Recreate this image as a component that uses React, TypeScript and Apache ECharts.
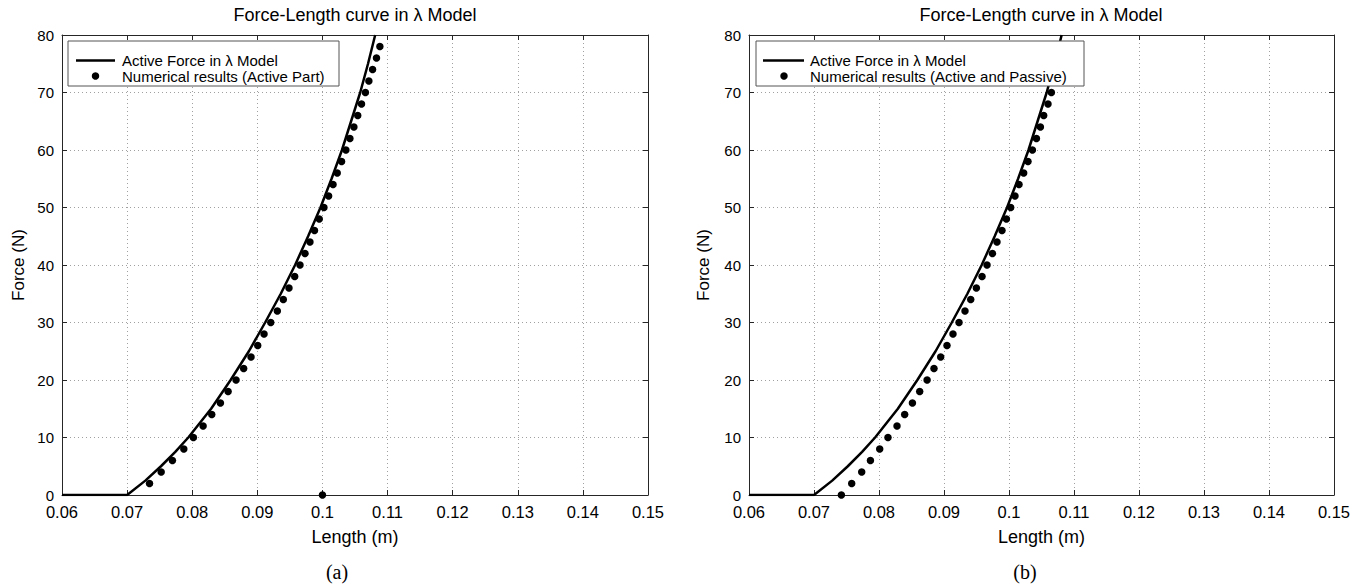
import React, { useEffect, useRef } from "react";
import * as echarts from "echarts";

// ---------- data ----------
const xTickMin = 0.06;
const xTickMax = 0.15;
const xTickStep = 0.01;
const yTickMin = 0;
const yTickMax = 80;
const yTickStep = 10;

const panelTitles = ["Force-Length curve in \u03bb Model", "Force-Length curve in \u03bb Model"];
const panelCaptions = ["(a)", "(b)"];
const xAxisName = "Length (m)";
const yAxisName = "Force (N)";
const curveLegend = "Active Force in \u03bb Model";
const dotsLegendA = "Numerical results (Active Part)";
const dotsLegendB = "Numerical results (Active and Passive)";

// Active force in lambda model (same curve in both panels)
const modelLength = [0.06, 0.07, 0.0728, 0.0752, 0.0774, 0.0794, 0.0829, 0.0859, 0.0887, 0.0912, 0.0936, 0.0958, 0.0978, 0.0997, 0.1014, 0.103, 0.1044, 0.1058, 0.107, 0.1081];
const modelForce = [0, 0, 2.5, 5, 7.5, 10, 15, 20, 25, 30, 35, 40, 45, 50, 55, 60, 65, 70, 75, 80];

// Panel (a): numerical results, active part
const activeLength = [0.07344, 0.07523, 0.07696, 0.07871, 0.08018, 0.08167, 0.083, 0.08433, 0.08551, 0.08673, 0.0879, 0.08903, 0.09006, 0.09103, 0.09206, 0.09307, 0.09399, 0.09486, 0.09574, 0.09655, 0.09732, 0.09808, 0.09878, 0.09951, 0.10023, 0.10095, 0.10163, 0.10227, 0.10294, 0.1036, 0.10422, 0.10483, 0.10542, 0.106, 0.1066, 0.10713, 0.1077, 0.1083, 0.10882, 0.1];
const activeForce = [2, 4, 6, 8, 10, 12, 14, 16, 18, 20, 22, 24, 26, 28, 30, 32, 34, 36, 38, 40, 42, 44, 46, 48, 50, 52, 54, 56, 58, 60, 62, 64, 66, 68, 70, 72, 74, 76, 78, 0];

// Panel (b): numerical results, active and passive
const bothLength = [0.07421, 0.0758, 0.07734, 0.07868, 0.08011, 0.08138, 0.08277, 0.08395, 0.08514, 0.08626, 0.0874, 0.08846, 0.08949, 0.09046, 0.09138, 0.09231, 0.09323, 0.09411, 0.09498, 0.09585, 0.09662, 0.09745, 0.09815, 0.09892, 0.0996, 0.10026, 0.10092, 0.10154, 0.10226, 0.10292, 0.1036, 0.10422, 0.10483, 0.10534, 0.106, 0.10652];
const bothForce = [0, 2, 4, 6, 8, 10, 12, 14, 16, 18, 20, 22, 24, 26, 28, 30, 32, 34, 36, 38, 40, 42, 44, 46, 48, 50, 52, 54, 56, 58, 60, 62, 64, 66, 68, 70];

// ---------- styling ----------
const FONT = "'Liberation Sans', Arial, Helvetica, sans-serif";
const SERIF = "'Liberation Serif', 'Times New Roman', serif";
const AXIS = "#262626";
const GRIDC = "#a0a0a0";

const zip = (a: number[], b: number[]) => a.map((v, i) => [v, b[i]]);
const fmtX = (v: number) => String(Number(v.toFixed(2)));

function mainX(gridIndex: number) {
  return {
    type: "value", gridIndex, position: "bottom",
    min: xTickMin, max: xTickMax, interval: xTickStep,
    name: xAxisName, nameLocation: "middle", nameGap: 33,
    nameTextStyle: { fontSize: 18, color: "#000", fontFamily: FONT },
    axisLine: { show: true, onZero: false, lineStyle: { color: AXIS, width: 1 } },
    axisTick: { show: true, inside: true, length: 5, lineStyle: { color: AXIS } },
    axisLabel: { show: true, margin: 8, fontSize: 16.5, color: "#000", fontFamily: FONT, formatter: fmtX, showMinLabel: true, showMaxLabel: true },
    splitLine: { show: true, lineStyle: { color: GRIDC, type: [1, 3], width: 1 } },
  };
}
function topX(gridIndex: number) {
  return {
    type: "value", gridIndex, position: "top",
    min: xTickMin, max: xTickMax, interval: xTickStep,
    axisLine: { show: true, onZero: false, lineStyle: { color: AXIS, width: 1 } },
    axisTick: { show: true, inside: true, length: 5, lineStyle: { color: AXIS } },
    axisLabel: { show: false },
    splitLine: { show: false },
  };
}
function mainY(gridIndex: number, gap: number) {
  return {
    type: "value", gridIndex, position: "left",
    min: yTickMin, max: yTickMax, interval: yTickStep,
    name: yAxisName, nameLocation: "middle", nameGap: gap,
    nameTextStyle: { fontSize: 17, color: "#000", fontFamily: FONT },
    axisLine: { show: true, onZero: false, lineStyle: { color: AXIS, width: 1 } },
    axisTick: { show: true, inside: true, length: 5, lineStyle: { color: AXIS } },
    axisLabel: { show: true, margin: 8, fontSize: 15, color: "#000", fontFamily: FONT, showMinLabel: true, showMaxLabel: true },
    splitLine: { show: true, lineStyle: { color: GRIDC, type: [1, 3], width: 1 } },
  };
}
function rightY(gridIndex: number) {
  return {
    type: "value", gridIndex, position: "right",
    min: yTickMin, max: yTickMax, interval: yTickStep,
    axisLine: { show: true, onZero: false, lineStyle: { color: AXIS, width: 1 } },
    axisTick: { show: true, inside: true, length: 5, lineStyle: { color: AXIS } },
    axisLabel: { show: false },
    splitLine: { show: false },
  };
}

function textEl(x: number, y: number, text: string, size: number, family: string, align = "center") {
  return {
    type: "text", x, y, z: 100,
    style: { text, fill: "#000", fontSize: size, fontFamily: family, textAlign: align, textVerticalAlign: "middle", align, verticalAlign: "middle" },
  };
}

function legendEl(bx: number, by: number, bw: number, bh: number, lineX1: number, lineX2: number, dotX: number, row1: number, row2: number, textX: number, label2: string) {
  return {
    type: "group", z: 100,
    children: [
      { type: "rect", z: 100, shape: { x: bx, y: by, width: bw, height: bh }, style: { fill: "#fff", stroke: "#555", lineWidth: 1 } },
      { type: "line", z: 101, shape: { x1: lineX1, y1: row1, x2: lineX2, y2: row1 }, style: { stroke: "#000", lineWidth: 2.5 } },
      { type: "circle", z: 101, shape: { cx: dotX, cy: row2, r: 3.75 }, style: { fill: "#000" } },
      { ...textEl(textX, row1, curveLegend, 15, FONT, "left"), z: 101 },
      { ...textEl(textX, row2, label2, 15, FONT, "left"), z: 101 },
    ],
  };
}

export default function App() {
  const ref = useRef<HTMLDivElement>(null);
  useEffect(() => {
    if (!ref.current) return;
    const chart = echarts.init(ref.current, undefined, { renderer: "svg" });
    chart.setOption({
      animation: false,
      backgroundColor: "#fff",
      grid: [
        { left: 62, top: 35, width: 586, height: 460 },
        { left: 749, top: 35, width: 585, height: 460 },
      ],
      xAxis: [mainX(0), topX(0), mainX(1), topX(1)],
      yAxis: [mainY(0, 35), rightY(0), mainY(1, 37), rightY(1)],
      series: [
        { name: curveLegend, type: "line", xAxisIndex: 0, yAxisIndex: 0, data: zip(modelLength, modelForce), showSymbol: false, symbol: "none", lineStyle: { color: "#000", width: 2.5 }, z: 3 },
        { name: dotsLegendA, type: "scatter", xAxisIndex: 0, yAxisIndex: 0, data: zip(activeLength, activeForce), symbol: "circle", symbolSize: 7.5, itemStyle: { color: "#000", opacity: 1 }, z: 4 },
        { name: curveLegend + " ", type: "line", xAxisIndex: 2, yAxisIndex: 2, data: zip(modelLength, modelForce), showSymbol: false, symbol: "none", lineStyle: { color: "#000", width: 2.5 }, z: 3 },
        { name: dotsLegendB, type: "scatter", xAxisIndex: 2, yAxisIndex: 2, data: zip(bothLength, bothForce), symbol: "circle", symbolSize: 7.5, itemStyle: { color: "#000", opacity: 1 }, z: 4 },
      ],
      graphic: [
        textEl(355, 15, panelTitles[0], 18, FONT),
        textEl(1041, 15, panelTitles[1], 18, FONT),
        textEl(337, 572, panelCaptions[0], 20, SERIF),
        textEl(1025, 572, panelCaptions[1], 20, SERIF),
        legendEl(68, 41, 271, 45, 76, 115, 95.5, 60.5, 76, 122, dotsLegendA),
        legendEl(756, 41, 328, 45, 763, 804, 784, 60.5, 76, 810, dotsLegendB),
      ],
    });
    return () => chart.dispose();
  }, []);
  return <div ref={ref} style={{ position: "absolute", left: 0, top: 0, width: 1371, height: 585, background: "#fff" }} />;
}
